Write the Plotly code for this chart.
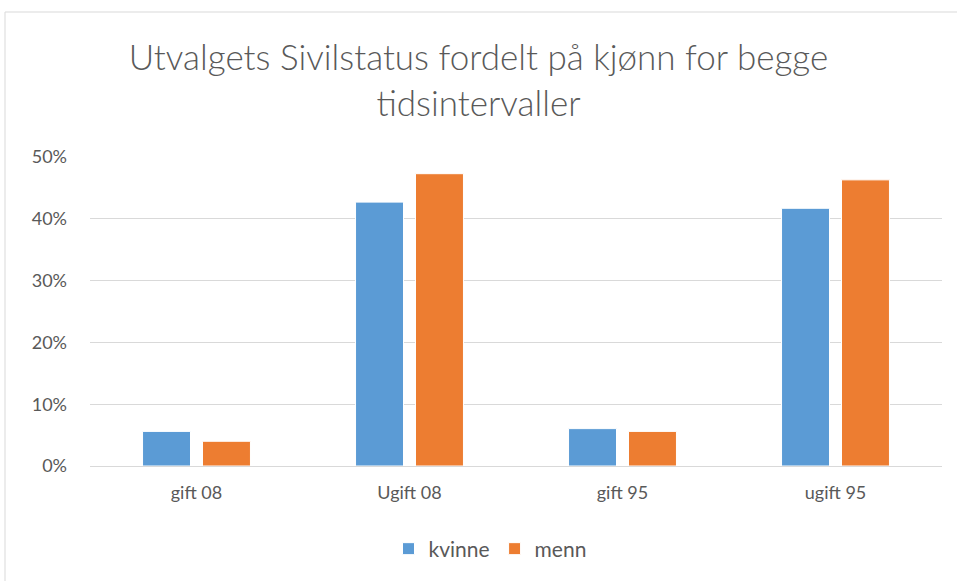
import plotly.graph_objects as go

categories = ["gift 08", "Ugift 08", "gift 95", "ugift 95"]
kvinne = [0.056, 0.427, 0.0605, 0.417]
menn = [0.040, 0.473, 0.056, 0.463]
tick_vals = [0, 0.1, 0.2, 0.3, 0.4, 0.5]

W, H = 957, 581
L, R, T, B = 90, 15, 157, 115
pw, ph = W - L - R, H - T - B

fig = go.Figure()
fig.add_trace(go.Bar(name="kvinne", x=categories, y=kvinne,
                     marker=dict(color="#5B9BD5", line=dict(color="white", width=1))))
fig.add_trace(go.Bar(name="menn", x=categories, y=menn,
                     marker=dict(color="#ED7D31", line=dict(color="white", width=1))))

font_family = "Lato, 'Open Sans', sans-serif"
fig.update_layout(
    width=W, height=H,
    margin=dict(l=L, r=R, t=T, b=B),
    paper_bgcolor="white", plot_bgcolor="white",
    barmode="group", bargap=0.437, bargroupgap=0.2,
    font=dict(family=font_family, color="#595959", size=17),
    title=dict(text="Utvalgets Sivilstatus fordelt på kjønn for begge<br>tidsintervaller",
               x=0.5, xanchor="center", y=1 - 70 / H, yanchor="top",
               font=dict(size=35, color="#595959", family=font_family, weight=300)),
    showlegend=True,
    legend=dict(orientation="h", x=0.5 - 26 / pw, xanchor="center", y=-(549 - 466) / ph,
                yanchor="middle", font=dict(size=21, color="#595959"), itemwidth=30,
                traceorder="normal"),
    xaxis=dict(showgrid=False, showline=False, ticks="", ticklabelstandoff=14,
               tickfont=dict(size=18, color="#595959")),
    yaxis=dict(range=[0, 0.5], tickvals=tick_vals, tickformat=".0%", showgrid=True,
               gridcolor="#D9D9D9", gridwidth=1, zeroline=True, zerolinecolor="#D9D9D9",
               zerolinewidth=1, showline=False, ticks="", ticklabelstandoff=22,
               tickfont=dict(size=18, color="#595959")),
    shapes=[dict(type="rect", xref="paper", yref="paper",
                 x0=(5 - L) / pw, x1=(970 - L) / pw,
                 y0=(H - B - 600) / ph, y1=(H - B - 12) / ph,
                 line=dict(color="#D9D9D9", width=1), layer="below")],
)

fig.write_html("out.html", config={"displayModeBar": False},
               post_script="document.body.style.margin='0';")
